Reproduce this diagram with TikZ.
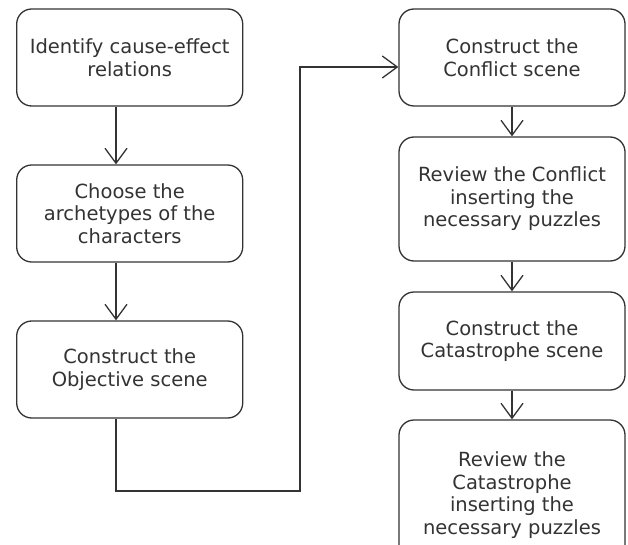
\documentclass[tikz,border=0pt]{standalone}
\usepackage{fontspec}
\setmainfont{DejaVu Sans}
\usetikzlibrary{arrows.meta}
\definecolor{ink}{HTML}{333333}
\begin{document}
\begin{tikzpicture}[x=1pt,y=-1pt,
  box/.style={draw=ink, line width=1.3pt, rounded corners=15pt, minimum width=226pt, inner sep=0pt,
    align=center, text=ink, font=\fontsize{19.5}{22.5}\selectfont},
  arr/.style={draw=ink, line width=1.3pt, -{Straight Barb[length=15pt,width=22pt,line width=1.3pt]}}]
\clip (0,0) rectangle (628,545);
\fill[white] (0,0) rectangle (628,545);
% left column
\node[box, minimum height=97pt] (b1) at (129.7,57.5) {Identify cause-effect\\relations};
\node[box, minimum height=97pt] (b2) at (129.7,213.5) {Choose the\\archetypes of the\\characters};
\node[box, minimum height=97pt] (b3) at (129.7,369.5) {Construct the\\Objective scene};
% right column
\node[box, minimum height=97pt] (b4) at (512,57.5) {Construct the\\Conflict scene};
\node[box, minimum height=124pt] (b5) at (512,199) {Review the Conflict\\inserting the\\necessary puzzles};
\node[box, minimum height=98pt] (b6) at (512,341) {Construct the\\Catastrophe scene};
\node[box, minimum height=150pt] (b7) at (512,495) {Review the\\Catastrophe\\inserting the\\necessary puzzles};
% helper coordinates
\coordinate (L) at (116,0);
\coordinate (c1) at (116,491);
\coordinate (c2) at (300,491);
\coordinate (c3) at (300,67);
% connectors
\draw[arr] (b1.south -| L) -- (b2.north -| L);
\draw[arr] (b2.south -| L) -- (b3.north -| L);
\draw[arr] (b3.south -| L) -- (c1) -- (c2) -- (c3) -- (b4.west |- c3);
\draw[arr] (b4) -- (b5);
\draw[arr] (b5) -- (b6);
\draw[arr] (b6) -- (b7);
\end{tikzpicture}
\end{document}
